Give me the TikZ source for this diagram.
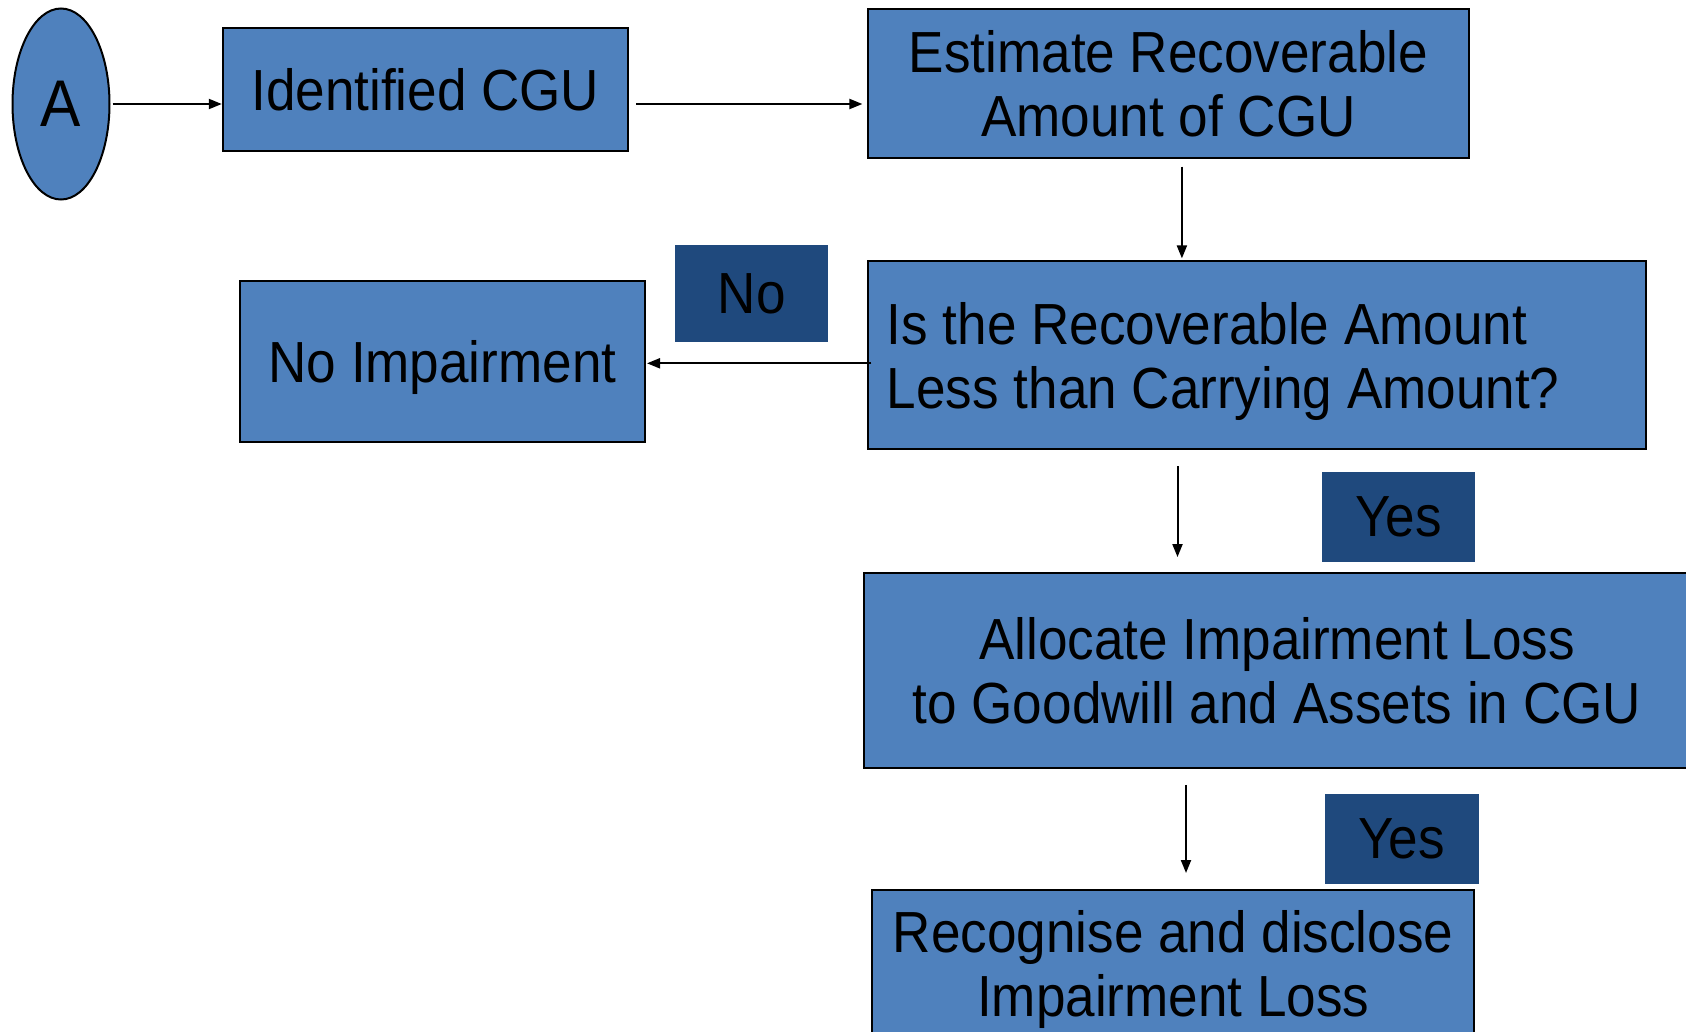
\documentclass[tikz,border=0pt]{standalone}
\usepackage{fontspec}
\setmainfont[FakeStretch=0.915]{Liberation Sans}
\usetikzlibrary{arrows.meta,shapes.geometric}
\definecolor{boxblue}{HTML}{4F81BD}
\definecolor{lbl}{HTML}{1F497D}
\begin{document}
\begin{tikzpicture}[x=1pt,y=-1pt,
  box/.style={draw=black,line width=2pt,fill=boxblue,inner sep=0pt,align=center,font=\fontsize{58}{64}\selectfont},
  lab/.style={fill=lbl,inner sep=0pt,font=\fontsize{58}{64}\selectfont},
  arr/.style={line width=2pt,-{Triangle[length=13pt,width=10pt]}}]
\useasboundingbox (0,0) rectangle (1686,1031);
\clip (0,0) rectangle (1686,1031);
\node[box,ellipse,minimum width=97pt,minimum height=191pt,font=\fontsize{66}{70}\selectfont] (A) at (61,104) {A};
\node[box,minimum width=405pt,minimum height=123pt] (id) at (425.3,89.3) {Identified CGU};
\node[box,minimum width=601pt,minimum height=149.5pt] (est) at (1168.4,83.3) {Estimate Recoverable\\Amount of CGU};
\node[box,minimum width=778.5pt,minimum height=188pt] (is) at (1257,355.4) {};
\node[anchor=west,inner sep=0pt,align=flush left,font=\fontsize{58}{64}\selectfont] (istext) at ([xshift=20pt,yshift=-6.5pt]is.west) {Is the Recoverable Amount\\Less than Carrying Amount?};
\node[box,minimum width=405pt,minimum height=161pt,text depth=0pt] (noimp) at (442.5,361.3) {No Impairment};
\node[box,minimum width=827pt,minimum height=194.7pt] (alloc) at (1277,670.4) {Allocate Impairment Loss\\to Goodwill and Assets in CGU};
\node[box,minimum width=602pt,minimum height=146pt,text depth=0pt] (rec) at (1173.2,963) {Recognise and disclose\\Impairment Loss};
\node[lab,minimum width=152.7pt,minimum height=96.8pt] (no) at (751.6,293.6) {No};
\node[lab,minimum width=153.7pt,minimum height=90.4pt] (yes1) at (1398.4,517.2) {Yes};
\node[lab,minimum width=153.8pt,minimum height=90.3pt] (yes2) at (1401.7,838.7) {Yes};
% connectors
\draw[arr,shorten <=2pt] (A.east) -- (A.east -| id.west);
\draw[arr,shorten <=7.5pt,shorten >=4.5pt] (id.east |- A.east) -- (est.west |- A.east);
\coordinate (c1) at ([xshift=13.5pt]est.south);
\draw[arr,shorten <=7.5pt,shorten >=2pt] (c1) -- (c1 |- is.north);
\coordinate (c2) at ([yshift=-2pt]noimp.east);
\draw[arr,shorten <=-4.5pt,shorten >=1pt] (c2 -| is.west) -- (c2);
\coordinate (c3) at ([xshift=-79.5pt]is.south);
\draw[arr,shorten <=16pt,shorten >=15pt] (c3) -- (c3 |- alloc.north);
\coordinate (c4) at ([xshift=-91pt]alloc.south);
\draw[arr,shorten <=16pt,shorten >=16pt] (c4) -- (c4 |- rec.north);
\end{tikzpicture}
\end{document}
